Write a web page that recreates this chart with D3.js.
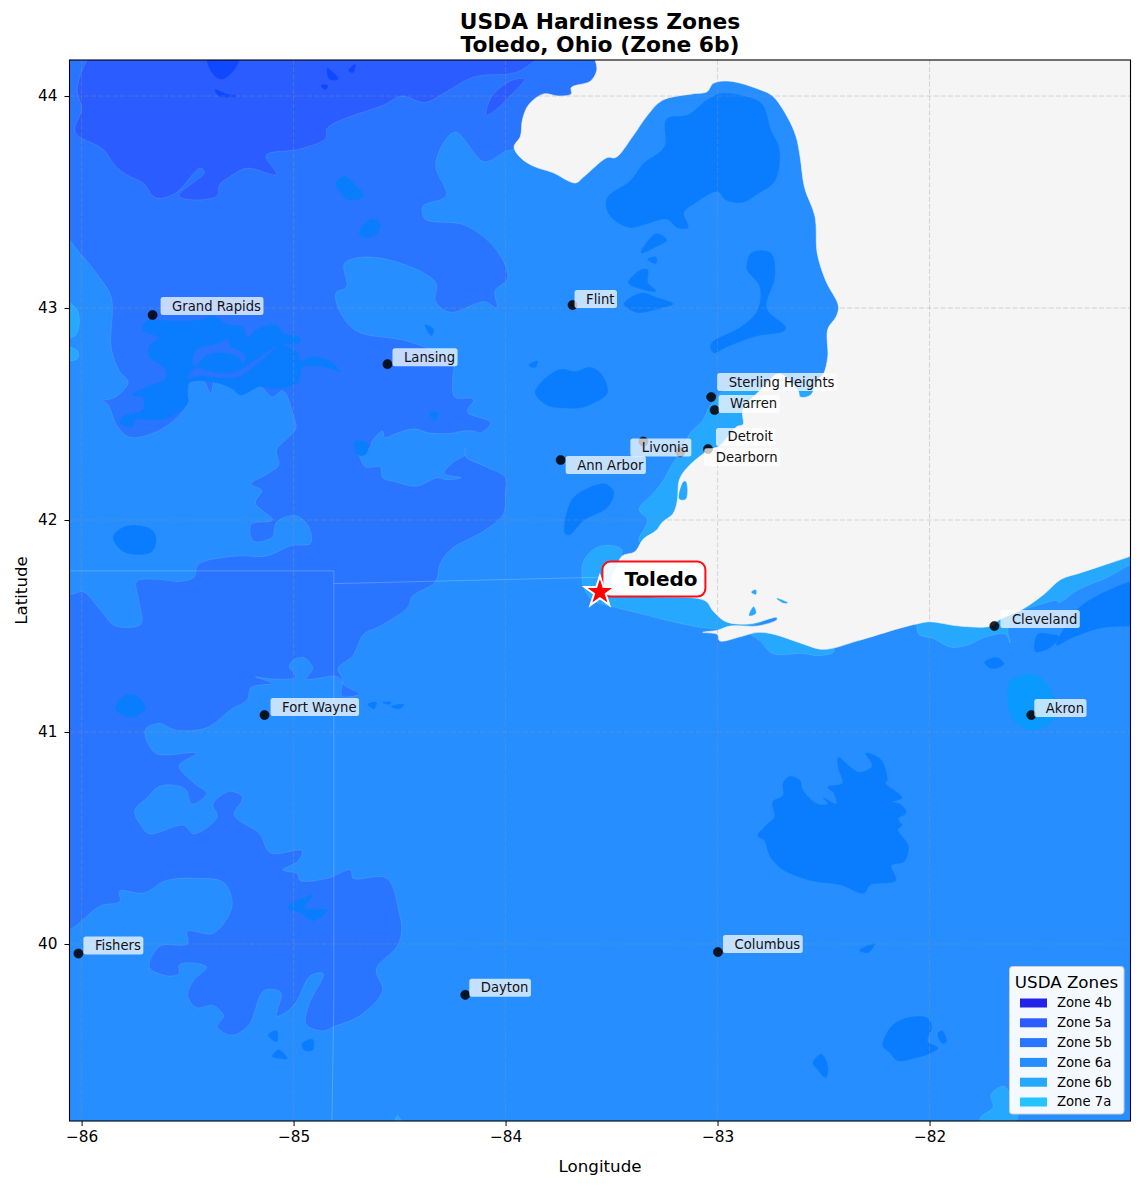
<!DOCTYPE html>
<html>
<head>
<meta charset="utf-8">
<title>USDA Hardiness Zones</title>
<script src="https://d3js.org/d3.v7.min.js"></script>
<style>
  html, body { margin: 0; padding: 0; background: white; }
  svg { display: block; font-family: "DejaVu Sans", sans-serif; }
</style>
</head>
<body>
<svg id="chart" width="1141" height="1187"></svg>
<script>
//////////////////////////
// Data (lon, lat)
//////////////////////////
const lonTicks = [-86, -85, -84, -83, -82];
const latTicks = [40, 41, 42, 43, 44];

const zoneNames = ["Zone 4b", "Zone 5a", "Zone 5b", "Zone 6a", "Zone 6b", "Zone 7a"];

const cityNames = ["Grand Rapids", "Lansing", "Flint", "Sterling Heights", "Warren", "Detroit", "Dearborn", "Livonia", "Ann Arbor", "Cleveland", "Akron", "Fort Wayne", "Columbus", "Dayton", "Fishers"];
const cityLons = [-85.665, -84.557, -83.684, -83.03, -83.014, -83.045, -83.176, -83.35, -83.74, -81.694, -81.52, -85.137, -82.998, -84.19, -86.015];
const cityLats = [42.967, 42.735, 43.014, 42.58, 42.519, 42.335, 42.32, 42.37, 42.283, 41.5, 41.08, 41.08, 39.962, 39.76, 39.955];

const homeCity = ["Toledo"];
const homeLon = [-83.555];
const homeLat = [41.66];

// water, no zone data
const lake = [[-83.573,44.25],[-83.57,44.12],[-83.6,44.07],[-83.69,44.04],[-83.69,44.01],[-83.75,44],[-83.82,44.01],[-83.89,43.96],[-83.92,43.89],[-83.93,43.81],[-83.96,43.76],[-83.93,43.71],[-83.87,43.67],[-83.78,43.64],[-83.67,43.59],[-83.63,43.62],[-83.52,43.71],[-83.48,43.71],[-83.4,43.81],[-83.33,43.91],[-83.26,43.98],[-83.12,44.01],[-83.05,44.02],[-83.02,44.06],[-82.94,44.07],[-82.8,44.03],[-82.74,44],[-82.67,43.9],[-82.63,43.81],[-82.61,43.71],[-82.59,43.57],[-82.54,43.43],[-82.53,43.26],[-82.49,43.13],[-82.43,43.01],[-82.44,42.96],[-82.48,42.9],[-82.48,42.77],[-82.5,42.69],[-82.53,42.66],[-82.56,42.59],[-82.61,42.58],[-82.62,42.61],[-82.71,42.69],[-82.79,42.62],[-82.88,42.52],[-82.88,42.45],[-82.91,42.44],[-82.99,42.35],[-83.04,42.33],[-83.14,42.25],[-83.18,42.19],[-83.19,42.09],[-83.21,42.03],[-83.26,41.99],[-83.29,41.95],[-83.35,41.91],[-83.39,41.85],[-83.45,41.83],[-83.48,41.77],[-83.5,41.72],[-83.48,41.67],[-83.32,41.64],[-83.06,41.62],[-83.02,41.57],[-82.96,41.52],[-82.85,41.51],[-82.72,41.54],[-82.72,41.53],[-82.81,41.5],[-82.94,41.5],[-83,41.48],[-83.07,41.47],[-83,41.46],[-82.99,41.43],[-82.89,41.45],[-82.81,41.47],[-82.73,41.46],[-82.61,41.42],[-82.5,41.39],[-82.34,41.43],[-82.14,41.49],[-82.06,41.51],[-82,41.52],[-81.86,41.5],[-81.71,41.5],[-81.67,41.53],[-81.56,41.58],[-81.46,41.65],[-81.38,41.72],[-81.29,41.75],[-81.2,41.78],[-81.05,41.83],[-80.9,41.89],[-80.9,44.25]];

const zone5b = [[-86.2,44.25],[-83.5,44.25],[-83.7,43.9],[-83.96,43.75],[-84,43.74],[-84.1,43.69],[-84.24,43.83],[-84.33,43.68],[-84.28,43.53],[-84.39,43.48],[-84.38,43.42],[-84.19,43.39],[-84.04,43.27],[-83.99,43.14],[-84.05,43.08],[-84.04,43],[-84.1,43.03],[-84.26,42.98],[-84.33,43.03],[-84.33,43.12],[-84.49,43.21],[-84.67,43.24],[-84.76,43.21],[-84.75,43.1],[-84.8,43.07],[-84.78,42.98],[-84.7,42.89],[-84.45,42.84],[-84.25,42.74],[-84.25,42.66],[-84.24,42.58],[-84.15,42.57],[-84.18,42.51],[-84.07,42.46],[-84.12,42.41],[-84.15,42.42],[-84.2,42.42],[-84.25,42.41],[-84.36,42.41],[-84.43,42.43],[-84.51,42.41],[-84.57,42.39],[-84.58,42.42],[-84.63,42.37],[-84.64,42.34],[-84.69,42.32],[-84.68,42.28],[-84.66,42.25],[-84.59,42.25],[-84.58,42.2],[-84.52,42.18],[-84.42,42.16],[-84.32,42.2],[-84.28,42.19],[-84.21,42.2],[-84.29,42.22],[-84.25,42.27],[-84.19,42.31],[-84.19,42.34],[-84.19,42.3],[-84.09,42.25],[-84,42.2],[-84,42.13],[-84.01,42.03],[-84.1,41.95],[-84.26,41.86],[-84.31,41.79],[-84.33,41.71],[-84.44,41.64],[-84.46,41.59],[-84.59,41.5],[-84.67,41.46],[-84.72,41.36],[-84.79,41.3],[-84.77,41.25],[-84.77,41.17],[-84.69,41.18],[-84.76,41.22],[-84.79,41.26],[-84.91,41.25],[-84.94,41.25],[-84.91,41.3],[-84.95,41.35],[-85,41.34],[-85.02,41.31],[-84.99,41.26],[-85.1,41.25],[-85.18,41.26],[-85.1,41.23],[-85.2,41.21],[-85.22,41.15],[-85.29,41.11],[-85.41,41.02],[-85.56,41.01],[-85.63,41.04],[-85.7,41.01],[-85.65,40.9],[-85.46,40.9],[-85.54,40.84],[-85.47,40.76],[-85.41,40.71],[-85.48,40.66],[-85.51,40.73],[-85.57,40.75],[-85.64,40.74],[-85.69,40.69],[-85.75,40.63],[-85.72,40.56],[-85.68,40.52],[-85.52,40.56],[-85.47,40.52],[-85.36,40.6],[-85.38,40.66],[-85.3,40.72],[-85.24,40.69],[-85.28,40.61],[-85.16,40.52],[-85.11,40.43],[-84.96,40.44],[-84.98,40.39],[-85.05,40.35],[-84.98,40.33],[-84.97,40.3],[-84.84,40.31],[-84.73,40.35],[-84.72,40.31],[-84.56,40.31],[-84.5,40.14],[-84.49,40.07],[-84.51,39.99],[-84.61,39.88],[-84.58,39.78],[-84.69,39.66],[-84.81,39.61],[-84.86,39.59],[-84.94,39.62],[-84.93,39.71],[-84.86,39.86],[-84.92,39.85],[-85,39.71],[-85.08,39.66],[-85.06,39.77],[-85.14,39.78],[-85.21,39.62],[-85.29,39.57],[-85.36,39.61],[-85.33,39.66],[-85.38,39.71],[-85.46,39.7],[-85.5,39.76],[-85.47,39.83],[-85.41,39.89],[-85.47,39.91],[-85.54,39.9],[-85.54,39.86],[-85.6,39.85],[-85.68,39.89],[-85.63,39.99],[-85.5,40],[-85.5,40.06],[-85.38,40.05],[-85.29,40.18],[-85.33,40.29],[-85.46,40.31],[-85.6,40.3],[-85.71,40.24],[-85.82,40.25],[-85.82,40.2],[-85.91,40.18],[-86.05,40.07],[-86.2,40]];

// zone 6a shape sitting on top of the 5b area
const zone6aWest = [[-86.2,43.45],[-86,43.25],[-85.92,43.15],[-85.86,43.05],[-85.86,42.81],[-85.82,42.7],[-85.78,42.65],[-85.84,42.58],[-85.91,42.56],[-85.88,42.55],[-85.83,42.44],[-85.77,42.39],[-85.62,42.43],[-85.5,42.55],[-85.5,42.65],[-85.43,42.66],[-85.39,42.6],[-85.37,42.66],[-85.29,42.62],[-85.24,42.59],[-85.16,42.63],[-85.1,42.58],[-85.05,42.61],[-85,42.49],[-84.99,42.43],[-85.08,42.33],[-85.07,42.26],[-85.12,42.22],[-85.2,42.17],[-85.15,42.14],[-85.18,42.08],[-85.1,42],[-85.2,41.98],[-85.19,41.9],[-85.1,41.92],[-85.08,41.99],[-84.99,42.02],[-84.93,41.97],[-84.92,41.89],[-85.01,41.88],[-85.13,41.83],[-85.27,41.83],[-85.45,41.79],[-85.47,41.73],[-85.54,41.71],[-85.64,41.72],[-85.74,41.71],[-85.73,41.62],[-85.72,41.51],[-85.84,41.5],[-85.9,41.56],[-85.99,41.66],[-86.05,41.65],[-86.2,41.65]];

const zone5aNorth = [[-85.89,44.25],[-86.02,44.04],[-86,43.94],[-86.03,43.83],[-85.9,43.75],[-85.84,43.67],[-85.79,43.63],[-85.71,43.59],[-85.65,43.52],[-85.56,43.54],[-85.44,43.66],[-85.42,43.64],[-85.54,43.53],[-85.47,43.51],[-85.36,43.53],[-85.35,43.58],[-85.3,43.62],[-85.22,43.66],[-85.08,43.63],[-85.13,43.72],[-84.97,43.75],[-84.85,43.8],[-84.84,43.85],[-84.57,43.96],[-84.49,44],[-84.38,43.97],[-84.28,44.02],[-84.15,44.09],[-83.93,44.12],[-83.81,44.25]];
const zone5aLens = [[-84.09,43.91],[-84.07,43.99],[-83.98,44.07],[-83.91,44.08],[-83.98,44],[-84.04,43.94]];

// the small cold pockets inside 5a
const cold5a = [
  [[-85.41,44.25],[-85.25,44.25],[-85.27,44.14],[-85.34,44.08],[-85.39,44.12]],
  [[-85.37,44.03],[-85.32,44.01],[-85.27,44],[-85.35,44]],
  [[-84.84,44.13],[-84.79,44.08],[-84.83,44.08]],
  [[-84.87,44.05],[-84.84,44.05],[-84.85,44.03]],
  [[-84.74,44.12],[-84.71,44.15],[-84.72,44.11]]
];

// the deeper blue pockets
const pockets = [
  [[-85.71,42.9],[-85.69,42.94],[-85.64,42.94],[-85.46,42.94],[-85.38,42.96],[-85.31,42.92],[-85.24,42.91],[-85.22,42.86],[-85.17,42.9],[-85.08,42.92],[-85.05,42.88],[-84.97,42.86],[-84.98,42.83],[-85.05,42.83],[-84.98,42.79],[-84.97,42.75],[-84.91,42.77],[-84.83,42.75],[-84.78,42.7],[-84.84,42.72],[-84.96,42.72],[-84.98,42.65],[-85.1,42.62],[-85.16,42.63],[-85.25,42.59],[-85.29,42.62],[-85.37,42.65],[-85.49,42.65],[-85.5,42.6],[-85.5,42.55],[-85.6,42.48],[-85.75,42.47],[-85.76,42.44],[-85.82,42.46],[-85.8,42.49],[-85.71,42.52],[-85.71,42.58],[-85.76,42.59],[-85.71,42.62],[-85.6,42.67],[-85.61,42.72],[-85.68,42.77],[-85.68,42.82],[-85.64,42.86]],
  [[-84.8,43.59],[-84.76,43.62],[-84.71,43.58],[-84.67,43.53],[-84.74,43.51],[-84.79,43.56]],
  [[-84.69,43.36],[-84.63,43.42],[-84.59,43.39],[-84.62,43.34],[-84.68,43.34]],
  [[-84.71,42.37],[-84.65,42.36],[-84.66,42.31],[-84.7,42.31]],
  [[-84.36,42.5],[-84.32,42.51],[-84.33,42.47]],
  [[-84.38,42.92],[-84.34,42.9],[-84.35,42.87]],
  [[-85.85,41.92],[-85.79,41.97],[-85.68,41.96],[-85.65,41.92],[-85.67,41.85],[-85.8,41.85]],
  [[-85.84,41.11],[-85.8,41.17],[-85.74,41.17],[-85.7,41.11],[-85.77,41.07]],
  [[-85.03,40.17],[-84.91,40.23],[-84.95,40.17],[-84.84,40.16],[-84.91,40.11],[-84.97,40.15]],
  [[-85.12,39.57],[-85.08,39.59],[-85.08,39.54]],
  [[-85.1,39.47],[-85.07,39.5],[-85.03,39.46]],
  [[-84.96,39.53],[-84.91,39.55],[-84.91,39.5],[-84.95,39.5]],
  [[-84.65,41.13],[-84.61,41.14],[-84.62,41.11]],
  [[-84.58,41.14],[-84.54,41.14],[-84.55,41.13]],
  [[-84.54,41.12],[-84.48,41.13],[-84.5,41.11]],
  [[-83.52,43.52],[-83.41,43.6],[-83.35,43.68],[-83.25,43.76],[-83.24,43.89],[-83.14,43.91],[-83.05,43.98],[-82.99,44.01],[-82.88,44],[-82.79,43.96],[-82.75,43.84],[-82.71,43.75],[-82.73,43.6],[-82.81,43.54],[-82.88,43.5],[-82.96,43.51],[-83,43.55],[-83.1,43.5],[-83.16,43.45],[-83.14,43.38],[-83.19,43.38],[-83.24,43.42],[-83.33,43.4],[-83.41,43.38],[-83.48,43.41],[-83.52,43.46]],
  [[-82.86,43.21],[-82.84,43.26],[-82.75,43.26],[-82.73,43.15],[-82.77,43],[-82.68,42.91],[-82.69,42.89],[-82.81,42.87],[-82.95,42.82],[-83.02,42.79],[-83.03,42.83],[-82.89,42.91],[-82.81,42.99],[-82.8,43.1],[-82.86,43.18]],
  [[-83.36,43.26],[-83.29,43.35],[-83.24,43.32],[-83.29,43.29]],
  [[-83.33,43.23],[-83.29,43.24],[-83.29,43.21]],
  [[-83.42,43.12],[-83.36,43.18],[-83.33,43.18],[-83.33,43.12],[-83.29,43.08],[-83.36,43.09]],
  [[-83.44,43.02],[-83.36,43.07],[-83.29,43.05],[-83.21,43.02],[-83.27,43],[-83.38,42.98]],
  [[-83.86,42.6],[-83.81,42.67],[-83.74,42.71],[-83.67,42.7],[-83.6,42.72],[-83.55,42.69],[-83.52,42.6],[-83.59,42.55],[-83.65,42.53],[-83.73,42.53],[-83.8,42.54]],
  [[-83.89,42.73],[-83.85,42.75],[-83.86,42.72]],
  [[-83.69,42.09],[-83.63,42.14],[-83.53,42.17],[-83.49,42.13],[-83.52,42.06],[-83.63,42],[-83.7,41.93],[-83.72,41.94]],
  [[-82.81,40.51],[-82.77,40.56],[-82.73,40.6],[-82.74,40.67],[-82.69,40.7],[-82.69,40.76],[-82.66,40.79],[-82.61,40.77],[-82.6,40.73],[-82.53,40.66],[-82.48,40.66],[-82.5,40.69],[-82.44,40.66],[-82.45,40.71],[-82.48,40.74],[-82.41,40.76],[-82.43,40.83],[-82.43,40.88],[-82.38,40.84],[-82.33,40.81],[-82.27,40.84],[-82.3,40.9],[-82.23,40.87],[-82.2,40.77],[-82.21,40.76],[-82.13,40.69],[-82.18,40.67],[-82.14,40.66],[-82.11,40.62],[-82.15,40.59],[-82.13,40.56],[-82.15,40.54],[-82.1,40.46],[-82.12,40.39],[-82.18,40.37],[-82.16,40.3],[-82.28,40.28],[-82.31,40.24],[-82.42,40.28],[-82.56,40.3],[-82.69,40.35],[-82.75,40.41],[-82.78,40.49]],
  [[-82.22,39.52],[-82.18,39.61],[-82.11,39.65],[-82.01,39.65],[-81.99,39.61],[-82.01,39.54],[-81.96,39.51],[-82.01,39.48],[-82.08,39.46],[-82.15,39.45],[-82.19,39.49]],
  [[-82.55,39.44],[-82.51,39.48],[-82.48,39.42],[-82.49,39.37],[-82.53,39.41]],
  [[-81.94,39.59],[-81.92,39.54],[-81.94,39.53],[-81.96,39.58]],
  [[-82.33,39.97],[-82.26,40],[-82.29,39.96]],
  [[-81.05,41.71],[-81.15,41.67],[-81.23,41.63],[-81.3,41.58],[-81.37,41.48],[-81.4,41.41],[-81.34,41.44],[-81.2,41.49],[-81.1,41.5],[-81.05,41.5],[-80.9,41.5],[-80.9,41.75]],
  [[-81.5,41.38],[-81.49,41.46],[-81.43,41.46],[-81.39,41.45],[-81.43,41.4]],
  [[-81.74,41.33],[-81.68,41.35],[-81.65,41.32],[-81.71,41.3]]
];

// 5b stripes running through the Grand Rapids pocket
const stripes5b = [
  [[-85.46,42.72],[-85.43,42.71],[-85.31,42.69],[-85.25,42.71],[-85.17,42.76],[-85.08,42.82],[-85.11,42.79],[-85.17,42.74],[-85.25,42.68],[-85.31,42.67],[-85.44,42.68],[-85.5,42.67]],
  [[-85.46,42.8],[-85.36,42.83],[-85.31,42.85],[-85.3,42.82],[-85.23,42.78],[-85.24,42.74],[-85.26,42.77],[-85.33,42.79],[-85.41,42.78],[-85.45,42.74],[-85.47,42.73]]
];

const akronPocket = [[-81.62,41.24],[-81.51,41.27],[-81.45,41.23],[-81.4,41.09],[-81.45,41.03],[-81.51,41.01],[-81.6,41.05],[-81.63,41.15]];

// zone 6b, their lake side is hidden under the lake
const zone6b = [
  [[-82.97,42.61],[-83.04,42.53],[-83.07,42.47],[-83.13,42.41],[-83.16,42.34],[-83.21,42.27],[-83.26,42.18],[-83.3,42.13],[-83.37,42.05],[-83.33,42],[-83.37,41.9],[-83.1,41.95],[-82.8,42.5],[-82.8,42.62]],
  [[-83.64,41.73],[-83.63,41.81],[-83.57,41.87],[-83.5,41.88],[-83.45,41.86],[-83.45,41.83],[-83.3,41.8],[-83,41.7],[-82.75,41.55],[-82.9,41.49],[-83.05,41.49],[-83.21,41.52],[-83.37,41.56],[-83.49,41.59],[-83.59,41.62],[-83.63,41.68]],
  [[-82.85,41.47],[-82.8,41.43],[-82.74,41.37],[-82.6,41.37],[-82.52,41.36],[-82.45,41.38],[-82.5,41.45],[-82.7,41.5]],
  [[-82.06,41.5],[-82.05,41.46],[-81.98,41.44],[-81.9,41.4],[-81.82,41.41],[-81.73,41.45],[-81.64,41.46],[-81.62,41.42],[-81.63,41.48],[-81.61,41.55],[-81.48,41.6],[-81.4,41.62],[-81.39,41.61],[-81.3,41.67],[-81.16,41.73],[-81.05,41.79],[-80.9,41.85],[-80.9,42],[-82.06,41.7]],
  [[-82.62,42.63],[-82.53,42.65],[-82.56,42.59],[-82.61,42.58]],
  [[-86.15,43.06],[-86.02,42.99],[-86.03,42.87],[-86.15,42.87]],
  [[-86.15,42.82],[-86.02,42.8],[-86.02,42.76],[-86.15,42.76]],
  [[-81.76,39.18],[-81.7,39.23],[-81.71,39.29],[-81.65,39.33],[-81.63,39.31],[-81.58,39.2],[-81.64,39.1],[-81.74,39.1]],
  [[-84.53,39.1],[-84.51,39.19],[-84.47,39.1]]
];

// little bits of 6b out in the lake
const lakeIslands = [
  [[-83.18,42.1],[-83.16,42.18],[-83.15,42.18],[-83.15,42.1]],
  [[-82.85,41.55],[-82.83,41.59],[-82.82,41.56]],
  [[-82.84,41.66],[-82.82,41.67],[-82.82,41.65]],
  [[-82.72,41.63],[-82.67,41.61],[-82.69,41.61]]
];

// state borders
const borders = [
  [[-86.1,41.76],[-84.81,41.76]],
  [[-84.81,41.76],[-84.81,39.74],[-84.82,39.1]],
  [[-84.81,41.7],[-83.55,41.73]]
];

//////////////////////////
// Setup
//////////////////////////
const margin = {top: 60, right: 1130.5, bottom: 1121, left: 69.5};

const zoneColor = d3.scaleOrdinal()
  .domain(zoneNames)
  .range(["#2222e8", "#2a5cff", "#2a75ff", "#268eff", "#26a8ff", "#26c4ff"]);

const pocketColor = "#0a7dff";
const coldColor = "#0f48ff";
const akronColor = "#0a9aff";
const lakeColor = "#f5f5f5";

const xScale = d3.scaleLinear()
  .domain([-86.057, -81.052])
  .range([margin.left, margin.right]);

const yScale = d3.scaleLinear()
  .domain([44.17, 39.165])
  .range([margin.top, margin.bottom]);

const svg = d3.select("#chart");

svg.append("defs").append("clipPath")
  .attr("id", "plotClip")
  .append("rect")
  .attr("x", margin.left)
  .attr("y", margin.top)
  .attr("width", margin.right - margin.left)
  .attr("height", margin.bottom - margin.top);

const plot = svg.append("g").attr("clip-path", "url(#plotClip)");

const ring = d3.line()
  .x(d => xScale(d[0]))
  .y(d => yScale(d[1]))
  .curve(d3.curveCatmullRomClosed.alpha(0.5));

const straight = d3.line()
  .x(d => xScale(d[0]))
  .y(d => yScale(d[1]));

//////////////////////////
// Map layers
//////////////////////////
function addShapes(shapes, fill, edge) {
  plot.append("g")
    .selectAll("path")
    .data(shapes)
    .enter()
    .append("path")
    .attr("d", ring)
    .attr("fill", fill)
    .attr("stroke", edge ? "rgba(255,255,255,0.18)" : fill)
    .attr("stroke-width", 0.6)
    .attr("stroke-linejoin", "round");
}

plot.append("rect")
  .attr("x", margin.left)
  .attr("y", margin.top)
  .attr("width", margin.right - margin.left)
  .attr("height", margin.bottom - margin.top)
  .attr("fill", zoneColor("Zone 6a"));

addShapes([zone5b], zoneColor("Zone 5b"), true);
addShapes([zone5aNorth, zone5aLens], zoneColor("Zone 5a"), true);
addShapes(cold5a, coldColor, false);
addShapes([zone6aWest], zoneColor("Zone 6a"), true);
addShapes(pockets, pocketColor, false);
addShapes(stripes5b, zoneColor("Zone 5b"), false);
addShapes([akronPocket], akronColor, false);
addShapes(zone6b, zoneColor("Zone 6b"), true);
addShapes([lake], lakeColor, false);
addShapes(lakeIslands, zoneColor("Zone 6b"), false);

plot.append("g")
  .selectAll("path")
  .data(borders)
  .enter()
  .append("path")
  .attr("d", straight)
  .attr("fill", "none")
  .attr("stroke", "rgba(255,255,255,0.22)")
  .attr("stroke-width", 1);

//grid goes above the fills
plot.append("g")
  .selectAll("line")
  .data(lonTicks)
  .enter()
  .append("line")
  .attr("x1", d => xScale(d))
  .attr("x2", d => xScale(d))
  .attr("y1", margin.top)
  .attr("y2", margin.bottom)
  .attr("stroke", "rgba(150,150,150,0.35)")
  .attr("stroke-dasharray", "5,2.2");

plot.append("g")
  .selectAll("line")
  .data(latTicks)
  .enter()
  .append("line")
  .attr("x1", margin.left)
  .attr("x2", margin.right)
  .attr("y1", d => yScale(d))
  .attr("y2", d => yScale(d))
  .attr("stroke", "rgba(150,150,150,0.35)")
  .attr("stroke-dasharray", "5,2.2");

//////////////////////////
// Cities
//////////////////////////
// label box shift from its dot, picked by hand so they do not collide
const labelShift = [[8,-9],[5,-7],[2,-6],[6,-15],[4,-6],[8,-12],[24,5],[-13,6],[5,5],[6,-7],[3,-7],[6,-8],[5,-8],[4,-7],[5,-8]];

const cityData = cityNames.map((name, i) => ({
  name: name,
  lon: cityLons[i],
  lat: cityLats[i],
  shift: labelShift[i]
}));

svg.append("g")
  .selectAll("circle")
  .data(cityData)
  .enter()
  .append("circle")
  .attr("cx", d => xScale(d.lon))
  .attr("cy", d => yScale(d.lat))
  .attr("r", 4.6)
  .attr("fill", "rgba(0,0,0,0.85)")
  .attr("stroke", "rgba(0,0,0,0.85)")
  .attr("stroke-width", 0.6);

const cityLabels = svg.append("g")
  .selectAll("g")
  .data(cityData)
  .enter()
  .append("g")
  .attr("transform", d => `translate(${xScale(d.lon) + d.shift[0]},${yScale(d.lat) + d.shift[1]})`);

let cityBoxes = cityLabels.append("rect")
  .attr("y", -9)
  .attr("height", 18)
  .attr("rx", 2.5)
  .attr("fill", "white")
  .attr("fill-opacity", 0.73);

let cityText = cityLabels.append("text")
  .attr("x", 11.5)
  .attr("dy", "0.34em")
  .attr("font-size", 13.2)
  .attr("fill", "#111")
  .text(d => d.name);

cityBoxes.attr("width", function(d, i) {
  return cityText.nodes()[i].getComputedTextLength() + 14;
});

//////////////////////////
// Toledo
//////////////////////////
const home = svg.append("g");
const homeX = xScale(homeLon[0]);
const homeY = yScale(homeLat[0]);

home.append("rect")
  .attr("x", homeX + 2.5)
  .attr("y", homeY - 30.5)
  .attr("width", 103)
  .attr("height", 35)
  .attr("rx", 8)
  .attr("fill", "white")
  .attr("fill-opacity", 0.93)
  .attr("stroke", "#ff0d12")
  .attr("stroke-width", 2);

home.append("text")
  .attr("x", homeX + 24.5)
  .attr("y", homeY - 13)
  .attr("dy", "0.35em")
  .attr("font-size", 20)
  .attr("font-weight", "bold")
  .attr("fill", "black")
  .text(homeCity[0]);

home.append("path")
  .attr("d", d3.symbol().type(d3.symbolStar).size(290))
  .attr("transform", `translate(${homeX},${homeY})`)
  .attr("fill", "red")
  .attr("stroke", "white")
  .attr("stroke-width", 2);

//////////////////////////
// Axes
//////////////////////////
svg.append("rect")
  .attr("x", margin.left)
  .attr("y", margin.top)
  .attr("width", margin.right - margin.left)
  .attr("height", margin.bottom - margin.top)
  .attr("fill", "none")
  .attr("stroke", "black")
  .attr("stroke-width", 1.1);

const xAxis = svg.append("g")
  .attr("transform", `translate(0,${margin.bottom})`)
  .call(d3.axisBottom(xScale).tickValues(lonTicks).tickSize(5).tickPadding(5).tickFormat(d => "\u2212" + Math.abs(d)));

const yAxis = svg.append("g")
  .attr("transform", `translate(${margin.left},0)`)
  .call(d3.axisLeft(yScale).tickValues(latTicks).tickSize(5).tickPadding(7).tickFormat(d3.format("d")));

xAxis.select(".domain").remove();
yAxis.select(".domain").remove();
svg.selectAll(".tick text")
  .attr("font-size", 15.3)
  .attr("font-family", "'DejaVu Sans', sans-serif")
  .attr("fill", "black");

svg.append("text")
  .attr("x", (margin.left + margin.right) / 2)
  .attr("y", 1172)
  .attr("text-anchor", "middle")
  .attr("font-size", 16.7)
  .text("Longitude");

svg.append("text")
  .attr("transform", `translate(27,${(margin.top + margin.bottom) / 2}) rotate(-90)`)
  .attr("text-anchor", "middle")
  .attr("font-size", 16.7)
  .text("Latitude");

svg.append("text")
  .attr("x", (margin.left + margin.right) / 2)
  .attr("y", 29)
  .attr("text-anchor", "middle")
  .attr("font-size", 21.8)
  .attr("font-weight", "bold")
  .text("USDA Hardiness Zones");

svg.append("text")
  .attr("x", (margin.left + margin.right) / 2)
  .attr("y", 52)
  .attr("text-anchor", "middle")
  .attr("font-size", 21.8)
  .attr("font-weight", "bold")
  .text("Toledo, Ohio (Zone 6b)");

//////////////////////////
// Legend
//////////////////////////
const legend = svg.append("g").attr("transform", "translate(1009,966)");

legend.append("rect")
  .attr("x", 0.5)
  .attr("y", 0.5)
  .attr("width", 114.5)
  .attr("height", 147.5)
  .attr("rx", 3)
  .attr("fill", "white")
  .attr("fill-opacity", 0.95)
  .attr("stroke", "#ccc");

legend.append("text")
  .attr("x", 57.5)
  .attr("y", 22)
  .attr("text-anchor", "middle")
  .attr("font-size", 16.7)
  .text("USDA Zones");

const legendRow = d3.scalePoint()
  .domain(zoneNames)
  .range([37, 136]);

legend.selectAll("rect.swatch")
  .data(zoneNames)
  .enter()
  .append("rect")
  .attr("class", "swatch")
  .attr("x", 11)
  .attr("y", d => legendRow(d) - 4.5)
  .attr("width", 27)
  .attr("height", 9)
  .attr("fill", d => zoneColor(d));

legend.selectAll("text.item")
  .data(zoneNames)
  .enter()
  .append("text")
  .attr("class", "item")
  .attr("x", 48)
  .attr("y", d => legendRow(d))
  .attr("dy", "0.34em")
  .attr("font-size", 13.2)
  .text(d => d);
</script>
</body>
</html>
